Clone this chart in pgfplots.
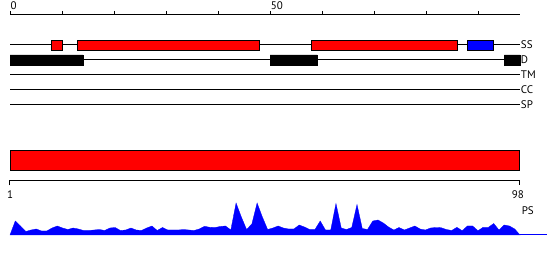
\documentclass[border=0pt]{standalone}
\usepackage{fontspec}
\setmainfont{PT Sans}
\usepackage{pgfplots}
\pgfplotsset{compat=1.18}
\usepackage{pgfplotstable}
\pgfplotstableread{
i h
1 0
2 14
3 9
4 3.5
5 5
6 6
7 4
8 4
9 7
10 9
11 7
12 5.5
13 7
14 6
15 4.5
16 4.5
17 5
18 5.5
19 4.5
20 7
21 7.5
22 4.5
23 5
24 7
25 5
26 4.5
27 7
28 9
29 4.5
30 7.5
31 5
32 5
33 5
34 5.5
35 5
36 4.5
37 6
38 8.7
39 7.7
40 7.5
41 8.5
42 9
43 5
44 32
45 18
46 5.5
47 11
48 32
49 18
50 5.5
51 7
52 9
53 7
54 6
55 6
56 10
57 8
58 5.5
59 5.5
60 14
61 5
62 5
63 31.5
64 7
65 5.5
66 7.5
67 30.5
68 6.5
69 5.5
70 14
71 15
72 12
73 8
74 5
75 7.5
76 5
77 7
78 9
79 6
80 5
81 7
82 7.5
83 7.3
84 5.5
85 4.5
86 7.7
87 4.3
88 9
89 9
90 4.3
91 7.7
92 7.7
93 11.5
94 5
95 10
96 9
97 6
98 0
}\pstable
\begin{document}
\begin{tikzpicture}[font=\fontsize{11}{13}\selectfont]
\path[use as bounding box] (0,0) rectangle (550pt,260pt);
% top section: ruler, tracks, big bar
\begin{axis}[
  at={(10pt,150pt)}, anchor=south west, scale only axis,
  width=510pt, height=95pt,
  xmin=0, xmax=98, ymin=-110, ymax=-15,
  axis x line*=top, hide y axis,
  axis line style={-, line width=1pt},
  xtick={0,10,...,90}, xticklabels={0,,,,,50},
  tick align=outside, major tick length=4pt,
  tick style={line width=1pt, black},
  xticklabel style={anchor=south west, inner sep=0pt, xshift=0.5pt, yshift=1pt},
  clip=false]
\addplot[black, line width=1pt] coordinates {(0,-45) (98,-45)};
\addplot[black, line width=1pt] coordinates {(0,-60) (98,-60)};
\addplot[black, line width=1pt] coordinates {(0,-75) (98,-75)};
\addplot[black, line width=1pt] coordinates {(0,-90) (98,-90)};
\addplot[black, line width=1pt] coordinates {(0,-105) (98,-105)};
% SS boxes
\addplot[fill=red, draw=black, line width=1pt] coordinates {(8,-40.2) (10,-40.2) (10,-50.6) (8,-50.6) (8,-40.2)};
\addplot[fill=red, draw=black, line width=1pt] coordinates {(13,-40.2) (48,-40.2) (48,-50.6) (13,-50.6) (13,-40.2)};
\addplot[fill=red, draw=black, line width=1pt] coordinates {(58,-40.2) (86,-40.2) (86,-50.6) (58,-50.6) (58,-40.2)};
\addplot[fill=blue, draw=black, line width=1pt] coordinates {(88,-40.2) (93,-40.2) (93,-50.6) (88,-50.6) (88,-40.2)};
% D boxes
\addplot[fill=black, draw=black, line width=0.5pt] coordinates {(0,-55) (14,-55) (14,-65.5) (0,-65.5) (0,-55)};
\addplot[fill=black, draw=black, line width=0.5pt] coordinates {(50,-55) (59,-55) (59,-65.5) (50,-65.5) (50,-55)};
\addplot[fill=black, draw=black, line width=0.5pt] coordinates {(95,-55) (98,-55) (98,-65.5) (95,-65.5) (95,-55)};
% big bar
\addplot[fill=red, draw=black, line width=1pt] coordinates {(0,-150.3) (98,-150.3) (98,-170.5) (0,-170.5) (0,-150.3)};
\node[anchor=west, inner sep=0.5pt] at (axis cs:98.05,-45) {SS};
\node[anchor=west, inner sep=0.5pt] at (axis cs:98.05,-60) {D};
\node[anchor=west, inner sep=0.5pt] at (axis cs:98.05,-75) {TM};
\node[anchor=west, inner sep=0.5pt] at (axis cs:98.05,-90) {CC};
\node[anchor=west, inner sep=0.5pt] at (axis cs:98.05,-105) {SP};
\end{axis}
% bottom section: ruler and PS area
\begin{axis}[
  at={(10pt,25pt)}, anchor=south west, scale only axis,
  width=510pt, height=54.7pt,
  xmin=1, xmax=98, ymin=0, ymax=54.7,
  hide axis, clip=false]
\addplot[fill=blue, draw=blue, line width=0.3pt] table[x=i, y=h] {\pstable} \closedcycle;
\addplot[blue, line width=1pt] coordinates {(98,0) (103.2,0)};
\addplot[black, line width=1pt] coordinates {(1,49.5) (1,54.7) (98,54.7) (98,49.5)};
\node[anchor=north, inner sep=0pt] at (axis cs:1,44.8) {1};
\node[anchor=north, inner sep=0pt] at (axis cs:97.6,44.8) {98};
\node[anchor=west, inner sep=0.5pt] at (axis cs:98.2,24) {PS};
\end{axis}
\end{tikzpicture}
\end{document}
